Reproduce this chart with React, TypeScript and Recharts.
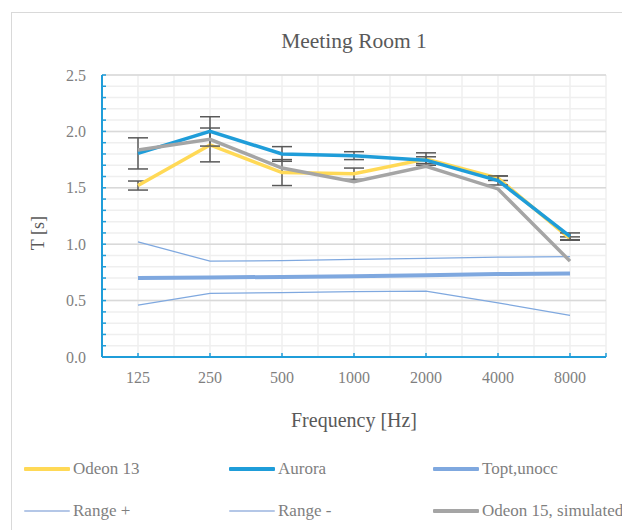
import { LineChart, Line, XAxis, YAxis, CartesianGrid, ErrorBar, Label } from "recharts";

const frequencies = ["125", "250", "500", "1000", "2000", "4000", "8000"];
const odeon13 = [1.52, 1.88, 1.635, 1.625, 1.755, 1.585, 1.05];
const odeon13Error = [0.04, 0.15, 0.115, 0.05, 0.055, 0.02, 0.015];
const aurora = [1.805, 2.0, 1.8, 1.785, 1.745, 1.565, 1.07];
const auroraError = [0.138, 0.13, 0.065, 0.035, 0.03, 0.04, 0.03];
const toptUnocc = [0.7, 0.705, 0.71, 0.715, 0.725, 0.735, 0.74];
const rangePlus = [1.02, 0.85, 0.855, 0.865, 0.875, 0.885, 0.89];
const rangeMinus = [0.46, 0.565, 0.57, 0.58, 0.585, 0.48, 0.37];
const odeon15 = [1.835, 1.93, 1.675, 1.555, 1.69, 1.49, 0.85];

const yMajorTicks = [0, 0.5, 1, 1.5, 2, 2.5];
const yMinorTicks = Array.from({ length: 26 }, (_, i) => i / 10);
const xTicks = [1, 2, 3, 4, 5, 6, 7, 7.5];
const xGrid = Array.from({ length: 15 }, (_, i) => 0.5 + i * 0.5);

const data = frequencies.map((f, i) => ({
  x: i + 1,
  freq: f,
  odeon13: odeon13[i],
  odeon13Err: odeon13Error[i],
  aurora: aurora[i],
  auroraErr: auroraError[i],
  topt: toptUnocc[i],
  rangePlus: rangePlus[i],
  rangeMinus: rangeMinus[i],
  odeon15: odeon15[i],
}));

const AXIS = "#1f9dd9";
const YELLOW = "#ffd956";
const BLUE = "#1f9dd9";
const LIGHTBLUE = "#7fa8df";
const GREY = "#a5a5a5";
const FONT = "'Liberation Serif', serif";
const TEXT = "#7f7f7f";

const legendItems = [
  { name: "Odeon 13", color: YELLOW, w: 3.5, x: 24, y: 469 },
  { name: "Aurora", color: BLUE, w: 3.5, x: 229, y: 469 },
  { name: "Topt,unocc", color: LIGHTBLUE, w: 3.5, x: 433, y: 469 },
  { name: "Range +", color: "#b4c7e7", w: 1.5, x: 24, y: 511 },
  { name: "Range -", color: "#b4c7e7", w: 1.5, x: 229, y: 511 },
  { name: "Odeon 15, simulated", color: GREY, w: 3.5, x: 433, y: 511 },
];

export default function App() {
  return (
    <div
      style={{
        position: "absolute",
        left: 0,
        top: 0,
        width: 622,
        height: 530,
        overflow: "hidden",
        background: "#fff",
        fontFamily: FONT,
      }}
    >
      <div
        style={{
          position: "absolute",
          left: 11,
          top: 12,
          width: 700,
          height: 600,
          border: "1.5px solid #d9d9d9",
        }}
      />
      <div
        style={{
          position: "absolute",
          left: 54,
          width: 600,
          top: 29,
          textAlign: "center",
          fontSize: 21.5,
          color: "#595959",
          whiteSpace: "nowrap",
        }}
      >
        Meeting Room 1
      </div>
      <div
        style={{
          position: "absolute",
          left: 54,
          width: 600,
          top: 409,
          textAlign: "center",
          fontSize: 20,
          color: "#595959",
          whiteSpace: "nowrap",
        }}
      >
        Frequency [Hz]
      </div>
      <div style={{ position: "absolute", left: 0, top: 0 }}>
        <LineChart
          width={622}
          height={400}
          data={data}
          margin={{ top: 75, right: 16, bottom: 13, left: 62 }}
        >
          <CartesianGrid
            horizontalValues={yMinorTicks}
            verticalValues={xGrid}
            stroke="#efefef"
            strokeWidth={1.5}
          />
          <CartesianGrid
            horizontalValues={yMajorTicks}
            vertical={false}
            stroke="#d9d9d9"
            strokeWidth={1.5}
          />
          <XAxis
            dataKey="x"
            type="number"
            domain={[0.5, 7.5]}
            ticks={xTicks}
            height={30}
            axisLine={{ stroke: AXIS, strokeWidth: 2 }}
            tickLine={{ stroke: AXIS, strokeWidth: 1.5 }}
            tickSize={-4}
            tickMargin={19}
            tickFormatter={(v: number) => frequencies[v - 1] ?? ""}
            tick={{ fill: TEXT, fontSize: 16, fontFamily: FONT }}
            interval={0}
          />
          <YAxis
            type="number"
            domain={[0, 2.5]}
            ticks={yMinorTicks}
            width={40}
            axisLine={{ stroke: AXIS, strokeWidth: 2 }}
            tickLine={{ stroke: AXIS, strokeWidth: 1.5 }}
            tickSize={-4}
            tickMargin={20}
            interval={0}
            tickFormatter={(v: number) =>
              Math.abs(v * 2 - Math.round(v * 2)) < 1e-6 ? v.toFixed(1) : ""
            }
            tick={{ fill: TEXT, fontSize: 16, fontFamily: FONT }}
          >
            <Label
              value="T [s]"
              angle={-90}
              position="left"
              offset={24}
              style={{ fill: "#595959", fontSize: 18, fontFamily: FONT }}
            />
          </YAxis>
          <Line
            dataKey="topt"
            stroke={LIGHTBLUE}
            strokeWidth={4}
            dot={false}
            isAnimationActive={false}
          />
          <Line
            dataKey="rangePlus"
            stroke={LIGHTBLUE}
            strokeWidth={1.25}
            dot={false}
            isAnimationActive={false}
          />
          <Line
            dataKey="rangeMinus"
            stroke={LIGHTBLUE}
            strokeWidth={1.25}
            dot={false}
            isAnimationActive={false}
          />
          <Line
            dataKey="odeon13"
            stroke={YELLOW}
            strokeWidth={3.5}
            dot={false}
            isAnimationActive={false}
          >
            <ErrorBar
              dataKey="odeon13Err"
              direction="y"
              width={10}
              stroke="#595959"
              strokeWidth={1.5}
            />
          </Line>
          <Line
            dataKey="aurora"
            stroke={BLUE}
            strokeWidth={3.5}
            dot={false}
            isAnimationActive={false}
          >
            <ErrorBar
              dataKey="auroraErr"
              direction="y"
              width={10}
              stroke="#595959"
              strokeWidth={1.5}
            />
          </Line>
          <Line
            dataKey="odeon15"
            stroke={GREY}
            strokeWidth={3.5}
            dot={false}
            isAnimationActive={false}
          />
        </LineChart>
      </div>
      {legendItems.map((item) => (
        <div
          key={item.name}
          style={{
            position: "absolute",
            left: item.x,
            top: item.y - 11,
            height: 22,
            display: "flex",
            alignItems: "center",
            whiteSpace: "nowrap",
            fontSize: 17,
            color: TEXT,
          }}
        >
          <span
            style={{
              display: "inline-block",
              width: 46,
              height: item.w,
              background: item.color,
              borderRadius: 1,
              marginRight: 3,
            }}
          />
          {item.name}
        </div>
      ))}
    </div>
  );
}
